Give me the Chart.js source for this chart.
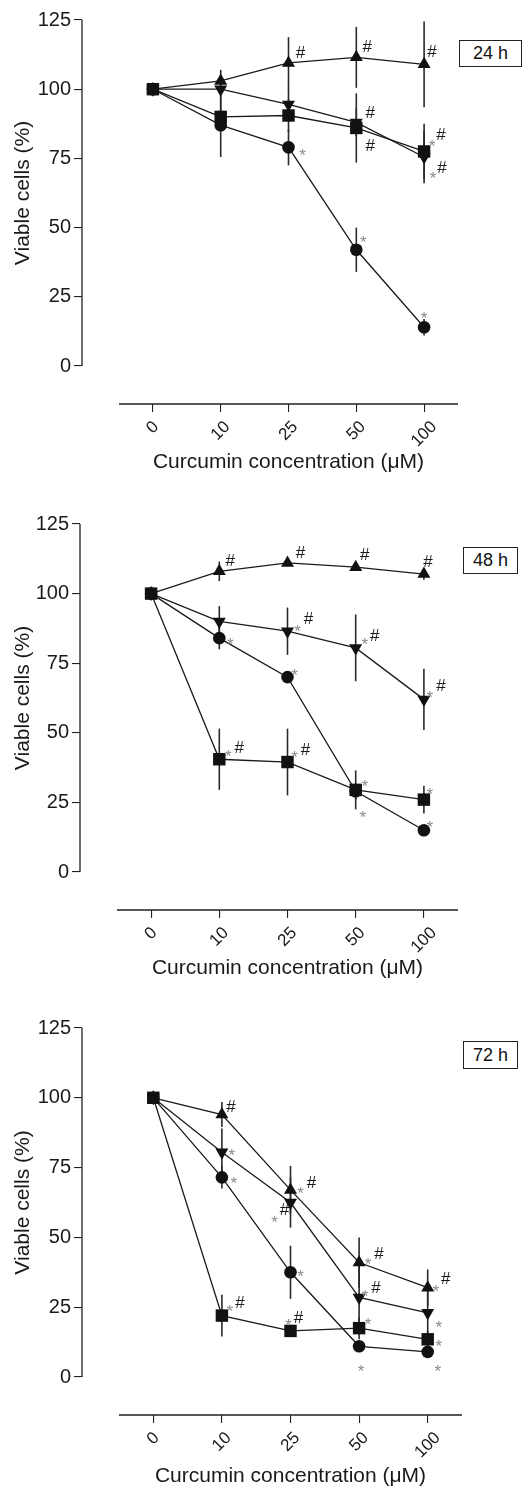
<!DOCTYPE html>
<html>
<head>
<meta charset="utf-8">
<script src="https://cdn.jsdelivr.net/npm/chart.js@4.4.0/dist/chart.umd.min.js"></script>
<style>
  body { margin: 0; background: #fff; width: 528px; height: 1486px; position: relative; overflow: hidden;
         font-family: "Liberation Sans", Arial, Helvetica, sans-serif; }
  canvas { position: absolute; left: 0; }
  .tag { position: absolute; box-sizing: border-box; border: 1px solid #222; background: #fff;
         font-size: 18px; color: #111; text-align: center; }
</style>
</head>
<body>
<canvas id="p24" width="528" height="490" style="top:0px"></canvas>
<canvas id="p48" width="528" height="491" style="top:490px"></canvas>
<canvas id="p72" width="528" height="505" style="top:981px"></canvas>
<div class="tag" style="left:459px;top:40px;width:63px;height:27px;line-height:25px">24 h</div>
<div class="tag" style="left:463px;top:547px;width:55px;height:27px;line-height:25px">48 h</div>
<div class="tag" style="left:463px;top:1041px;width:55px;height:28px;line-height:26px">72 h</div>
<script>
// x categories (curcumin, µM) and y ticks
const conc = ['0', '10', '25', '50', '100'];
const yTicks = [0, 25, 50, 75, 100, 125];

// 24 h
const square24 = [100, 90, 90.5, 86, 77.5];
const square24Err = [0, 5, 6, 12.5, 10];
const circle24 = [100, 87, 79, 42, 14];
const circle24Err = [0, 11.5, 6.5, 8, 3];
const tri24 = [100, 103, 109.5, 111.5, 109];
const tri24Err = [0, 4, 9.3, 11, 15.5];
const triDown24 = [100, 100, 94.5, 88, 75.5];
const triDown24Err = [0, 5, 6, 5, 9.5];

// 48 h
const square48 = [100, 40.5, 39.5, 29.5, 26];
const square48Err = [0, 11, 12, 7, 5];
const circle48 = [100, 84, 70, 29, 15];
const circle48Err = [0, 4, 1.5, 3, 1.5];
const tri48 = [100, 108, 111, 109.5, 107];
const tri48Err = [0, 3.5, 1, 1, 2];
const triDown48 = [100, 90, 86.5, 80.5, 62];
const triDown48Err = [0, 5.5, 8.5, 12, 11];

// 72 h
const square72 = [100, 22, 16.5, 17.5, 13.5];
const square72Err = [0, 7.5, 2, 4, 3];
const circle72 = [100, 71.5, 37.5, 11, 9];
const circle72Err = [0, 4, 9.5, 2, 1];
const tri72 = [100, 94, 67, 41, 32];
const tri72Err = [0, 4.5, 8.6, 9, 6.5];
const triDown72 = [100, 80.5, 62.5, 28.5, 23];
const triDown72Err = [0, 8.5, 9, 13, 9];

// significance marks: [series, index, mark, dx, dy]
const notes24 = [
  ['tri', 2, '#', 12, -11], ['tri', 3, '#', 11, -11], ['tri', 4, '#', 8, -13],
  ['triDown', 3, '#', 14, -10], ['square', 3, '#', 14, 17],
  ['circle', 2, '*', 14, 4], ['circle', 3, '*', 7, -12], ['circle', 4, '*', 0, -13],
  ['square', 4, '*', 8, -9], ['square', 4, '#', 17, -17],
  ['triDown', 4, '*', 9, 17], ['triDown', 4, '#', 18, 10]
];
const notes48 = [
  ['tri', 1, '#', 11, -11], ['tri', 2, '#', 13, -11], ['tri', 3, '#', 9, -13], ['tri', 4, '#', 4, -13],
  ['circle', 1, '*', 11, 2],
  ['triDown', 2, '*', 10, -4], ['triDown', 2, '#', 21, -13],
  ['triDown', 3, '*', 9, -8], ['triDown', 3, '#', 19, -13],
  ['triDown', 4, '*', 6, -6], ['triDown', 4, '#', 17, -14],
  ['circle', 2, '*', 7, -6],
  ['square', 1, '*', 9, -7], ['square', 1, '#', 20, -12],
  ['square', 2, '*', 7, -9], ['square', 2, '#', 18, -13],
  ['square', 3, '*', 9, -8], ['circle', 3, '*', 7, 22],
  ['square', 4, '*', 6, -10], ['circle', 4, '*', 6, -7]
];
const notes72 = [
  ['tri', 1, '#', 9, -9], ['triDown', 1, '*', 10, -1], ['circle', 1, '*', 12, 2],
  ['tri', 2, '*', 10, -1], ['tri', 2, '#', 21, -8],
  ['triDown', 2, '*', -16, 15], ['triDown', 2, '#', -6, 6],
  ['circle', 2, '*', 10, 0],
  ['square', 1, '*', 8, -9], ['square', 1, '#', 18, -14],
  ['square', 2, '*', -2, -10], ['square', 2, '#', 8, -14],
  ['tri', 3, '*', 9, -3], ['tri', 3, '#', 20, -10],
  ['triDown', 3, '*', 6, -5], ['triDown', 3, '#', 17, -10],
  ['square', 3, '*', 9, -8], ['circle', 3, '*', 2, 21],
  ['tri', 4, '*', 8, -1], ['tri', 4, '#', 18, -10],
  ['triDown', 4, '*', 11, 10], ['square', 4, '*', 11, 3], ['circle', 4, '*', 10, 15]
];

const panels = [
  { id: 'p24', notes: notes24,
    series: { square: [square24, square24Err], circle: [circle24, circle24Err], tri: [tri24, tri24Err], triDown: [triDown24, triDown24Err] },
    frame: { top: 0, height: 490, yAxisX: 82, xStart: 119, xEnd: 458, yTop: 20, yZero: 366, xAxisY: 404, titleGap: 58 } },
  { id: 'p48', notes: notes48,
    series: { square: [square48, square48Err], circle: [circle48, circle48Err], tri: [tri48, tri48Err], triDown: [triDown48, triDown48Err] },
    frame: { top: 490, height: 491, yAxisX: 80, xStart: 117, xEnd: 458, yTop: 524, yZero: 872, xAxisY: 910, titleGap: 58 } },
  { id: 'p72', notes: notes72,
    series: { square: [square72, square72Err], circle: [circle72, circle72Err], tri: [tri72, tri72Err], triDown: [triDown72, triDown72Err] },
    frame: { top: 981, height: 505, yAxisX: 82, xStart: 119, xEnd: 462, yTop: 1028, yZero: 1377, xAxisY: 1415, titleGap: 61 } }
];

const FONT = '"Liberation Sans", Arial, Helvetica, sans-serif';
const INK = '#1a1a1a';
const markerStyle = {
  square: { pointStyle: 'rect', pointRadius: 8.8, rotation: 0 },
  circle: { pointStyle: 'circle', pointRadius: 6.3, rotation: 0 },
  tri: { pointStyle: 'triangle', pointRadius: 7.5, rotation: 0 },
  triDown: { pointStyle: 'triangle', pointRadius: 7.5, rotation: 180 }
};
const XH = 71; // room under the plot for tick labels + title

const decor = {
  id: 'decor',
  beforeDatasetsDraw(chart) {
    const { ctx, chartArea: a, scales: { x, y } } = chart;
    const series = chart.options.plugins.decor.series;
    ctx.save();
    ctx.strokeStyle = '#222';
    ctx.lineWidth = 1.3;
    ctx.beginPath();
    ctx.moveTo(a.left, y.getPixelForValue(0));
    ctx.lineTo(a.left, y.getPixelForValue(125));
    ctx.moveTo(x.getPixelForValue(-0.5), a.bottom);
    ctx.lineTo(x.getPixelForValue(4.5), a.bottom);
    ctx.stroke();
    // error bars
    ctx.strokeStyle = '#2a2a2a';
    ctx.lineWidth = 1.6;
    Object.keys(series).forEach(k => {
      const [vals, errs] = series[k];
      vals.forEach((v, i) => {
        if (!errs[i]) return;
        const px = x.getPixelForValue(i);
        ctx.beginPath();
        ctx.moveTo(px, y.getPixelForValue(v - errs[i]));
        ctx.lineTo(px, y.getPixelForValue(v + errs[i]));
        ctx.stroke();
      });
    });
    ctx.restore();
  },
  afterDraw(chart) {
    const { ctx, chartArea: a, scales: { x, y } } = chart;
    const opts = chart.options.plugins.decor;
    ctx.save();
    ctx.fillStyle = INK;
    // rotated concentration labels
    ctx.font = '17px ' + FONT;
    ctx.textAlign = 'center';
    ctx.textBaseline = 'middle';
    conc.forEach((lab, i) => {
      const w = ctx.measureText(lab).width;
      const half = (w + 12) / (2 * Math.SQRT2);
      ctx.save();
      ctx.translate(x.getPixelForValue(i), a.bottom + 16 + half);
      ctx.rotate(-Math.PI / 4);
      ctx.fillText(lab, 0, 0);
      ctx.restore();
    });
    // axis titles
    ctx.font = '21px ' + FONT;
    const xMid = (x.getPixelForValue(-0.5) + x.getPixelForValue(4.5)) / 2;
    ctx.fillText('Curcumin concentration (μM)', xMid, a.bottom + opts.titleGap);
    ctx.save();
    ctx.translate(23, (y.getPixelForValue(0) + y.getPixelForValue(125)) / 2);
    ctx.rotate(-Math.PI / 2);
    ctx.fillText('Viable cells (%)', 0, 0);
    ctx.restore();
    // * and # marks
    ctx.font = '17px ' + FONT;
    ctx.textBaseline = 'alphabetic';
    opts.notes.forEach(([s, i, mark, dx, dy]) => {
      const px = x.getPixelForValue(i) + dx;
      const py = y.getPixelForValue(opts.series[s][0][i]) + dy;
      if (mark === '*') {
        ctx.fillStyle = '#8a8a8a';
        ctx.fillText('*', px, py + 10);
      } else {
        ctx.fillStyle = INK;
        ctx.fillText('#', px, py + 6);
      }
    });
    ctx.restore();
  }
};

function makeChart(p) {
  const f = p.frame;
  const ppuY = (f.yZero - f.yTop) / 125;
  const yMin = -(f.xAxisY - f.yZero) / ppuY;
  const ppuX = (f.xEnd - f.xStart) / 5;
  const xMin = -0.5 - (f.xStart - f.yAxisX) / ppuX;

  const datasets = Object.keys(p.series).map(k => ({
    label: k,
    data: p.series[k][0].map((v, i) => ({ x: i, y: v })),
    borderColor: INK,
    borderWidth: 1.3,
    backgroundColor: '#111',
    pointBackgroundColor: '#111',
    pointBorderWidth: 0,
    pointStyle: markerStyle[k].pointStyle,
    pointRadius: markerStyle[k].pointRadius,
    pointRotation: markerStyle[k].rotation,
    tension: 0,
    clip: false
  }));

  new Chart(document.getElementById(p.id), {
    type: 'line',
    data: { datasets },
    options: {
      responsive: false,
      animation: false,
      events: [],
      layout: {
        padding: { left: 0, right: 528 - f.xEnd, top: f.yTop - f.top, bottom: f.height - (f.xAxisY - f.top) - XH }
      },
      plugins: {
        legend: { display: false },
        tooltip: { enabled: false },
        decor: { series: p.series, notes: p.notes, titleGap: f.titleGap }
      },
      scales: {
        x: {
          type: 'linear', min: xMin, max: 4.5,
          afterBuildTicks: s => { s.ticks = conc.map((c, i) => ({ value: i })); },
          afterFit: s => { s.height = XH; },
          ticks: { display: false },
          grid: { display: true, drawOnChartArea: false, drawTicks: true, tickLength: 8, color: '#222', lineWidth: 1.1 },
          border: { display: false }
        },
        y: {
          type: 'linear', min: yMin, max: 125,
          afterBuildTicks: s => { s.ticks = yTicks.map(v => ({ value: v })); },
          afterFit: s => { s.width = f.yAxisX; },
          ticks: { color: INK, font: { family: FONT, size: 20 }, padding: 3 },
          grid: { display: true, drawOnChartArea: false, drawTicks: true, tickLength: 8, color: '#222', lineWidth: 1.1 },
          border: { display: false }
        }
      }
    },
    plugins: [decor]
  });
}

panels.forEach(makeChart);
</script>
</body>
</html>
